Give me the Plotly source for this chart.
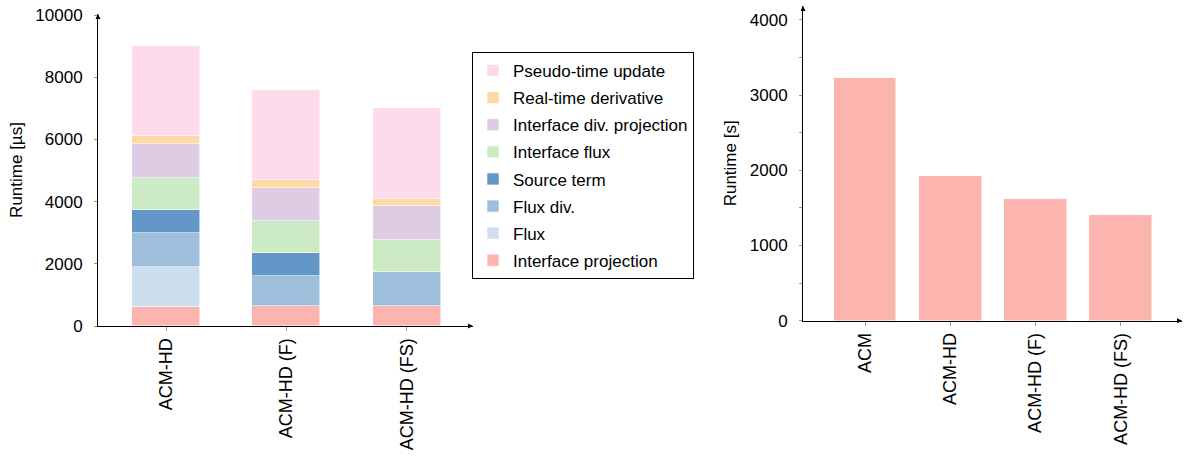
import plotly.graph_objects as go

# ---- Left chart data (stacked runtime per kernel, µs) ----
left_categories = ["ACM-HD", "ACM-HD (F)", "ACM-HD (FS)"]
series_names = [
    "Interface projection",
    "Flux",
    "Flux div.",
    "Source term",
    "Interface flux",
    "Interface div. projection",
    "Real-time derivative",
    "Pseudo-time update",
]
interface_projection = [610, 630, 630]
flux = [1300, 0, 0]
flux_div = [1090, 975, 1095]
source_term = [740, 730, 0]
interface_flux = [1020, 1030, 1040]
interface_div_projection = [1100, 1080, 1080]
real_time_derivative = [260, 260, 250]
pseudo_time_update = [2880, 2890, 2915]
series_values = [
    interface_projection, flux, flux_div, source_term,
    interface_flux, interface_div_projection, real_time_derivative, pseudo_time_update,
]
series_colors = [
    "#fbb4ae", "#cddfee", "#9ebfdb", "#6297c7",
    "#ccebc5", "#decbe4", "#fed9a6", "#fddaec",
]

# ---- Right chart data (total runtime, s) ----
right_categories = ["ACM", "ACM-HD", "ACM-HD (F)", "ACM-HD (FS)"]
right_values = [3225, 1925, 1623, 1401]

FONT = "Liberation Sans"
W, H = 1190, 456

fig = go.Figure()

n = len(series_names)
for i, (name, vals, col) in enumerate(zip(series_names, series_values, series_colors)):
    fig.add_trace(go.Bar(
        x=left_categories, y=vals, name=name,
        marker=dict(color=col, line=dict(color="rgba(255,255,255,0.7)", width=0.8)),
        width=0.564, xaxis="x", yaxis="y", legendgroup=f"g{i}", legendrank=n - i,
    ))

fig.add_trace(go.Bar(
    x=right_categories, y=right_values, name="Runtime",
    marker=dict(color="#fbb4ae", line=dict(color="rgba(255,255,255,0.7)", width=0.8)),
    width=0.735, xaxis="x2", yaxis="y2", showlegend=False,
))

def px_x(p):
    return p / W

def px_y(p):
    return 1 - p / H

ytickfont = dict(family=FONT, size=17, color="black")
xtickfont = dict(family=FONT, size=18, color="black")

common_x = dict(
    type="category", showline=True, linecolor="black", linewidth=1,
    ticks="outside", ticklen=4, tickcolor="#999999", tickwidth=1,
    tickangle=-90, tickfont=xtickfont, showgrid=False, zeroline=False,
    ticklabelstandoff=0, automargin=False,
)
common_y = dict(
    showline=True, linecolor="black", linewidth=1,
    ticks="outside", ticklen=3, tickcolor="#999999", tickwidth=1,
    tickfont=ytickfont, showgrid=False, zeroline=False, tickformat="d",
    ticklabelstandoff=8, automargin=False,
    title_font=dict(family=FONT, size=17, color="black"),
)

fig.update_layout(
    width=W, height=H,
    margin=dict(l=0, r=0, t=0, b=0),
    paper_bgcolor="white", plot_bgcolor="white",
    barmode="stack",
    font=dict(family=FONT, size=17, color="black"),
    xaxis=dict(common_x, domain=[px_x(98), px_x(473)], range=[-0.565, 2.55], anchor="y"),
    yaxis=dict(common_y, domain=[px_y(326), px_y(14)], range=[0, 10032],
               tickvals=[0, 2000, 4000, 6000, 8000, 10000], anchor="x",
               title=dict(text="Runtime [µs]", standoff=8)),
    xaxis2=dict(common_x, domain=[px_x(803), px_x(1182)], range=[-0.73, 3.72], anchor="y2"),
    yaxis2=dict(common_y, domain=[px_y(320.7), px_y(6)], range=[0, 4186],
                tickvals=[0, 1000, 2000, 3000, 4000], anchor="x2",
                minor=dict(ticks="outside", dtick=500, ticklen=3, tickcolor="#999999", tickwidth=1),
                title=dict(text="Runtime [s]", standoff=8)),
    legend=dict(
        x=px_x(472), y=px_y(52), xanchor="left", yanchor="top",
        bgcolor="white", bordercolor="black", borderwidth=1,
        traceorder="grouped", tracegroupgap=2,
        font=dict(family=FONT, size=17, color="black"),
    ),
    bargap=0,
)

# small arrow heads at the axis ends
for xr, yr in (("x", "y"), ("x2", "y2")):
    fig.add_annotation(x=1, y=0, xref=f"{xr} domain", yref=f"{yr} domain",
                       ax=-6, ay=0, showarrow=True, arrowhead=2, arrowsize=1,
                       arrowwidth=1, arrowcolor="black", text="")
    fig.add_annotation(x=0, y=1, xref=f"{xr} domain", yref=f"{yr} domain",
                       ax=0, ay=6, showarrow=True, arrowhead=2, arrowsize=1,
                       arrowwidth=1, arrowcolor="black", text="")

fig.write_html("out.html", config={"displayModeBar": False},
               post_script="document.body.style.margin='0';")
